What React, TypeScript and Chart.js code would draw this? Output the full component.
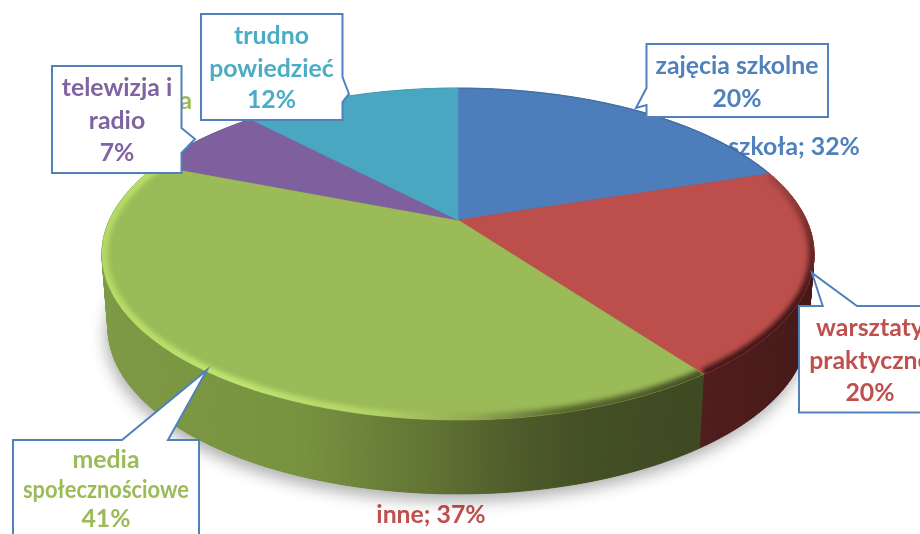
import React, { useEffect, useRef } from "react";
import { Chart, registerables } from "chart.js";

Chart.register(...registerables);

const categories = ["zajęcia szkolne", "warsztaty praktyczne", "media społecznościowe", "telewizja i radio", "trudno powiedzieć"];
const values = [20, 20, 41, 7, 12];

const calloutLines = [
  ["zajęcia szkolne", "20%"],
  ["warsztaty", "praktyczne", "20%"],
  ["media", "społecznościowe", "41%"],
  ["telewizja i", "radio", "7%"],
  ["trudno", "powiedzieć", "12%"],
];
const outerLabels = ["szkoła; 32%", "inne; 37%", "media"];

// ---- styles and layout, not data ----
const faceColors = ["#4d7ebb", "#bc4f4c", "#9bba58", "#7f609f", "#4aa7c2"];
const textColors = ["#4f81bd", "#c0504d", "#9bbb59", "#8064a2", "#4bacc6"];
const FONT = 'bold 24.8px Lato, "Open Sans", sans-serif';
const BORDER = "#4f81bd";
const MAX_LINE_WIDTH = 166;

type Stop = [number, string];
const sideStops: Stop[][] = [
  [[0, "#2c4a70"], [1, "#2c4a70"]],
  [[0.8, "#521e1e"], [1, "#461818"]],
  [[0, "#7f9b45"], [0.28, "#78933f"], [0.47, "#5f7233"], [0.58, "#4e5b2a"], [0.68, "#434f24"], [0.84, "#3e4922"]],
  [[0, "#4a3862"], [1, "#4a3862"]],
  [[0, "#2c6272"], [1, "#2c6272"]],
];
const rimStops: (Stop[] | null)[] = [
  [[0.6, "rgba(40,60,90,0.5)"], [1, "rgba(40,60,90,0.8)"]],
  [[0.8, "#3a1212"], [1, "#3a1212"]],
  [[0, "#b4dc66"], [0.18, "#c2e873"], [0.38, "#b4d668"], [0.52, "#8fa850"], [0.64, "#55652d"], [0.84, "#3f4a22"]],
  null,
  null,
];

const calloutBoxes = [
  { x: 646.5, y: 44, r: 828, b: 117, cx: 737, base: [74, 107] },
  { x: 799, y: 306, r: 960, b: 412.5, cx: 870, base: [336, 369, 401] },
  { x: 13, y: 440, r: 199, b: 560, cx: 106, base: [468, 498, 527] },
  { x: 52, y: 66, r: 181.5, b: 173, cx: 117, base: [96, 129, 161] },
  { x: 201, y: 14, r: 342.5, b: 120, cx: 271.5, base: [44, 77, 108] },
];
const pointers = [
  { edge: "left", a: 88, b: 105, tx: 636, ty: 108 },
  { edge: "top", a: 822.7, b: 857, tx: 812, ty: 273 },
  { edge: "top", a: 122, b: 168, tx: 207, ty: 370 },
  { edge: "right", a: 128, b: 153, tx: 195, ty: 139 },
  { edge: "right", a: 77, b: 102, tx: 349, ty: 94 },
];

const APEX_X = 458;
const APEX_Y = 220;
const RX = 348.5;
const RY = 159;
const K = 0.205;
const DEPTH = 74;
const LOWER_SCALE = 0.983;
const SIDE_X0 = 100;
const SIDE_X1 = 820;

function project(theta: number, lower = false): [number, number] {
  const u = Math.cos(theta);
  const v = Math.sin(theta);
  const d = 1 - K * v;
  const x = (RX * u) / d;
  const y = APEX_Y + (RY * v) / d;
  return lower ? [APEX_X + x * LOWER_SCALE, y + DEPTH] : [APEX_X + x, y];
}

function arcPoints(a0: number, a1: number, lower = false) {
  const n = Math.max(2, Math.ceil((a1 - a0) / 0.01));
  const pts: [number, number][] = [];
  for (let i = 0; i <= n; i++) pts.push(project(a0 + ((a1 - a0) * i) / n, lower));
  return pts;
}

function trace(ctx: CanvasRenderingContext2D, pts: [number, number][], close = true) {
  ctx.beginPath();
  pts.forEach((p, i) => (i ? ctx.lineTo(p[0], p[1]) : ctx.moveTo(p[0], p[1])));
  if (close) ctx.closePath();
}

function hGradient(ctx: CanvasRenderingContext2D, stops: Stop[]) {
  const g = ctx.createLinearGradient(SIDE_X0, 0, SIDE_X1, 0);
  stops.forEach(([o, c]) => g.addColorStop(o, c));
  return g;
}

function drawCallout(ctx: CanvasRenderingContext2D, i: number) {
  const b = calloutBoxes[i];
  const p = pointers[i];
  ctx.beginPath();
  ctx.moveTo(b.x, b.y);
  if (p.edge === "top") {
    ctx.lineTo(p.a, b.y);
    ctx.lineTo(p.tx, p.ty);
    ctx.lineTo(p.b, b.y);
  }
  ctx.lineTo(b.r, b.y);
  if (p.edge === "right") {
    ctx.lineTo(b.r, p.a);
    ctx.lineTo(p.tx, p.ty);
    ctx.lineTo(b.r, p.b);
  }
  ctx.lineTo(b.r, b.b);
  ctx.lineTo(b.x, b.b);
  if (p.edge === "left") {
    ctx.lineTo(b.x, p.b);
    ctx.lineTo(p.tx, p.ty);
    ctx.lineTo(b.x, p.a);
  }
  ctx.closePath();
  ctx.fillStyle = "#ffffff";
  ctx.fill();
  ctx.strokeStyle = BORDER;
  ctx.lineWidth = 2;
  ctx.lineJoin = "miter";
  ctx.stroke();
  ctx.fillStyle = textColors[i];
  ctx.font = FONT;
  ctx.textAlign = "center";
  ctx.textBaseline = "alphabetic";
  calloutLines[i].forEach((t, j) => ctx.fillText(t, b.cx, b.base[j], MAX_LINE_WIDTH));
}

const pie3d = {
  id: "pie3d",
  beforeDatasetsDraw(chart: any) {
    const ctx: CanvasRenderingContext2D = chart.ctx;
    const arcs = chart.getDatasetMeta(0).data as any[];
    ctx.save();

    // labels that sit behind the pie
    ctx.font = FONT;
    ctx.textBaseline = "alphabetic";
    ctx.textAlign = "center";
    ctx.fillStyle = textColors[0];
    ctx.fillText(outerLabels[0], 794, 155);
    ctx.fillStyle = textColors[1];
    ctx.fillText(outerLabels[1], 431, 523);
    ctx.textAlign = "right";
    ctx.fillStyle = textColors[2];
    ctx.fillText(outerLabels[2], 192, 109);

    // soft shadow under the lower disc
    const full = arcPoints(0, Math.PI * 2, true);
    ctx.save();
    ctx.shadowColor = "rgba(0,0,0,0.32)";
    ctx.shadowBlur = 16;
    ctx.shadowOffsetY = 7;
    ctx.shadowOffsetX = -2;
    ctx.fillStyle = "#555";
    trace(ctx, full);
    ctx.fill();
    ctx.restore();

    // side walls, one narrow quad at a time so the sweep is filled to its outline
    arcs.forEach((arc, i) => {
      const top = arcPoints(arc.startAngle, arc.endAngle);
      const low = arcPoints(arc.startAngle, arc.endAngle, true);
      const g = hGradient(ctx, sideStops[i]);
      ctx.fillStyle = g;
      ctx.strokeStyle = g;
      ctx.lineWidth = 0.7;
      for (let j = 0; j + 1 < top.length; j++) {
        trace(ctx, [top[j], top[j + 1], low[j + 1], low[j]]);
        ctx.fill();
        ctx.stroke();
      }
    });

    // top faces
    arcs.forEach((arc, i) => {
      const rim = arcPoints(arc.startAngle, arc.endAngle);
      const face: [number, number][] = [[APEX_X, APEX_Y], ...rim];
      trace(ctx, face);
      ctx.fillStyle = faceColors[i];
      ctx.fill();
      ctx.strokeStyle = faceColors[i];
      ctx.lineWidth = 0.6;
      ctx.stroke();

      const stops = rimStops[i];
      if (stops) {
        ctx.save();
        trace(ctx, face);
        ctx.clip();
        ctx.lineJoin = "round";
        if (i === 0) {
          ctx.strokeStyle = hGradient(ctx, stops);
          ctx.globalAlpha = 0.35;
          ctx.lineWidth = 2;
        } else if (i === 1) {
          // the red rim fades out towards the back of the pie
          const g = ctx.createLinearGradient(0, 175, 0, 300);
          g.addColorStop(0, "rgba(58,18,18,0.15)");
          g.addColorStop(0.6, "rgba(58,18,18,0.7)");
          g.addColorStop(1, "rgba(58,18,18,0.95)");
          ctx.strokeStyle = g;
          ctx.filter = "blur(2.5px)";
          ctx.lineWidth = 11;
        } else {
          ctx.strokeStyle = hGradient(ctx, stops);
          ctx.filter = "blur(2.5px)";
          ctx.globalAlpha = 0.95;
          ctx.lineWidth = 12;
        }
        trace(ctx, rim, false);
        ctx.stroke();
        ctx.restore();
      }
    });

    ctx.restore();
    return false;
  },
  afterDraw(chart: any) {
    const ctx: CanvasRenderingContext2D = chart.ctx;
    ctx.save();
    categories.forEach((_, i) => drawCallout(ctx, i));
    ctx.restore();
  },
};

export default function App() {
  const ref = useRef<HTMLCanvasElement>(null);
  useEffect(() => {
    document.body.style.margin = "0";
    const chart = new Chart(ref.current as HTMLCanvasElement, {
      type: "pie",
      data: {
        labels: categories,
        datasets: [{ data: values, backgroundColor: faceColors, borderWidth: 0 }],
      },
      options: {
        animation: false,
        responsive: false,
        rotation: 0,
        plugins: { legend: { display: false }, tooltip: { enabled: false } },
      },
      plugins: [pie3d],
    } as any);
    return () => chart.destroy();
  }, []);
  return (
    <div style={{ width: 920, height: 534, overflow: "hidden", background: "#fff" }}>
      <canvas ref={ref} width={920} height={534} style={{ display: "block" }} />
    </div>
  );
}
